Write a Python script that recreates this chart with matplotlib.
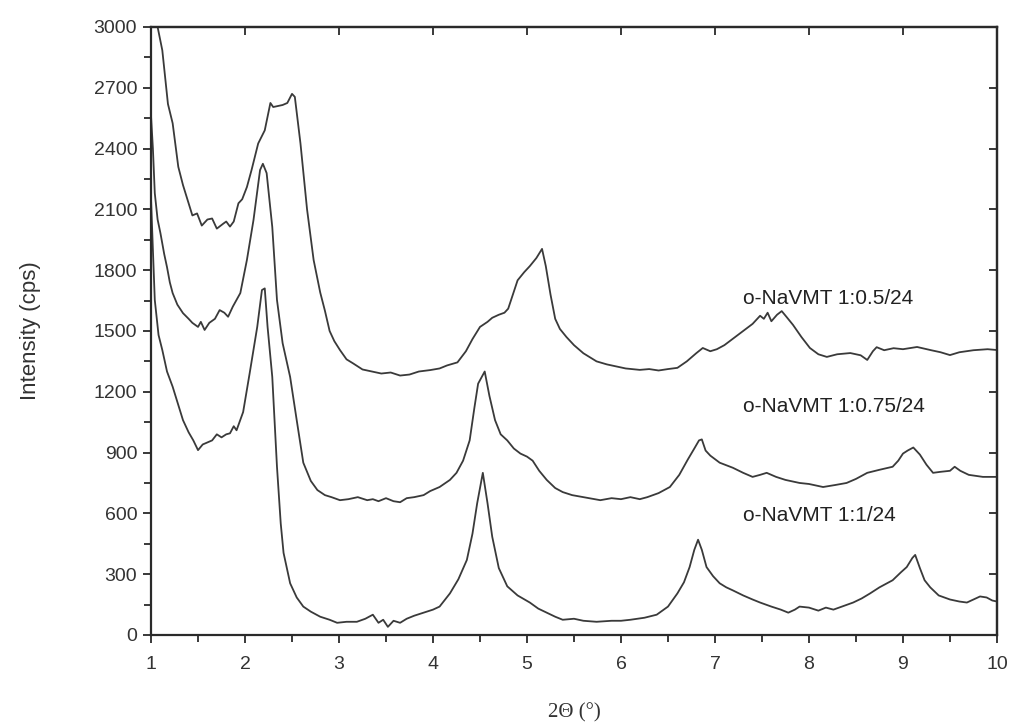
import matplotlib
matplotlib.use("Agg")
import matplotlib.pyplot as plt
from matplotlib.ticker import MultipleLocator, NullLocator

# XRD patterns of organo-modified NaVMT samples (2-theta in degrees, intensity in cps)
theta_05 = [1.00, 1.07, 1.12, 1.18, 1.23, 1.29, 1.34, 1.38, 1.44, 1.49, 1.54, 1.60, 1.65, 1.70,
            1.77, 1.80, 1.84, 1.88, 1.93, 1.97, 2.02, 2.07, 2.14, 2.21, 2.25, 2.27, 2.30, 2.35,
            2.40, 2.45, 2.50, 2.53, 2.59, 2.66, 2.73, 2.80, 2.85, 2.90, 2.95, 3.01, 3.08, 3.15,
            3.25, 3.35, 3.45, 3.55, 3.65, 3.75, 3.85, 3.97, 4.07, 4.15, 4.26, 4.35, 4.42, 4.50,
            4.58, 4.63, 4.70, 4.76, 4.80, 4.85, 4.90, 4.97, 5.03, 5.10, 5.16, 5.20, 5.25, 5.30,
            5.35, 5.42, 5.50, 5.60, 5.74, 5.85, 5.95, 6.05, 6.20, 6.30, 6.40, 6.50, 6.60, 6.70,
            6.80, 6.87, 6.95, 7.02, 7.10, 7.20, 7.30, 7.40, 7.48, 7.52, 7.56, 7.60, 7.66, 7.71,
            7.76, 7.83, 7.92, 8.01, 8.10, 8.19, 8.30, 8.44, 8.55, 8.62, 8.68, 8.72, 8.80, 8.90,
            9.00, 9.15, 9.30, 9.40, 9.50, 9.60, 9.75, 9.90, 10.00]
int_05 = [3400, 3000, 2885, 2620, 2525, 2310, 2220, 2160, 2070, 2080, 2020, 2050, 2055, 2005,
          2030, 2040, 2015, 2040, 2130, 2150, 2210, 2295, 2425, 2490, 2580, 2625, 2605, 2610,
          2615, 2625, 2670, 2655, 2425, 2100, 1850, 1690, 1600, 1500, 1450, 1406, 1360, 1340,
          1310, 1300, 1290, 1295, 1280, 1285, 1300, 1307, 1315, 1330, 1345, 1400, 1460, 1520,
          1545, 1565, 1580, 1590, 1610, 1680, 1750, 1790, 1820, 1860, 1905, 1820, 1680, 1560,
          1510, 1470, 1430, 1390, 1350, 1335, 1325, 1315, 1308, 1312, 1305, 1312, 1318, 1350,
          1390, 1416, 1400, 1410, 1430, 1465, 1500, 1535, 1575, 1560, 1590, 1548, 1580, 1598,
          1570, 1530, 1470, 1416, 1385, 1372, 1385, 1391, 1380, 1357, 1400, 1420, 1405, 1415,
          1410, 1421, 1405, 1395, 1381, 1395, 1405, 1410, 1406]

theta_075 = [1.00, 1.02, 1.04, 1.07, 1.10, 1.14, 1.17, 1.20, 1.23, 1.28, 1.34, 1.40, 1.44, 1.50,
             1.53, 1.57, 1.62, 1.68, 1.73, 1.78, 1.82, 1.87, 1.95, 2.02, 2.09, 2.16, 2.19, 2.23,
             2.29, 2.34, 2.40, 2.48, 2.55, 2.62, 2.70, 2.77, 2.85, 2.92, 3.01, 3.10, 3.20, 3.30,
             3.36, 3.42, 3.50, 3.58, 3.65, 3.72, 3.80, 3.90, 3.97, 4.07, 4.18, 4.25, 4.32, 4.39,
             4.44, 4.48, 4.55, 4.60, 4.66, 4.72, 4.79, 4.86, 4.93, 5.00, 5.06, 5.13, 5.21, 5.30,
             5.38, 5.48, 5.60, 5.78, 5.90, 6.00, 6.10, 6.20, 6.28, 6.40, 6.52, 6.62, 6.71, 6.78,
             6.83, 6.86, 6.90, 6.95, 7.05, 7.19, 7.30, 7.40, 7.48, 7.55, 7.65, 7.75, 7.90, 8.00,
             8.15, 8.28, 8.40, 8.50, 8.62, 8.75, 8.89, 8.95, 9.00, 9.05, 9.11, 9.18, 9.25, 9.32,
             9.40, 9.50, 9.55, 9.61, 9.70, 9.85, 10.00]
int_075 = [2560, 2400, 2180, 2050, 1983, 1880, 1815, 1740, 1687, 1630, 1588, 1560, 1540, 1520,
           1545, 1505, 1540, 1560, 1603, 1590, 1570, 1620, 1687, 1850, 2047, 2294, 2325, 2279,
           2013, 1653, 1440, 1273, 1060, 850, 760, 715, 690, 680, 665, 670, 680, 665,
           670, 660, 675, 660, 655, 675, 680, 690, 710, 730, 765, 800, 860, 960,
           1120, 1240, 1300, 1180, 1060, 990, 960, 920, 895, 880, 860, 810, 765, 725,
           705, 690, 680, 665, 675, 670, 680, 670, 680, 700, 730, 790, 865, 920,
           960, 965, 910, 885, 850, 825, 800, 780, 790, 800, 780, 765, 750, 745,
           730, 740, 750, 770, 800, 815, 830, 860, 895, 910, 925, 890, 840, 800,
           805, 810, 830, 810, 790, 780, 780]

theta_1 = [1.00, 1.02, 1.04, 1.08, 1.12, 1.17, 1.23, 1.28, 1.34, 1.40, 1.45, 1.50, 1.55, 1.60,
           1.65, 1.70, 1.75, 1.80, 1.84, 1.88, 1.91, 1.98, 2.05, 2.13, 2.18, 2.21, 2.24, 2.29,
           2.34, 2.38, 2.41, 2.48, 2.55, 2.62, 2.70, 2.80, 2.90, 2.98, 3.08, 3.19, 3.28, 3.36,
           3.42, 3.47, 3.52, 3.58, 3.65, 3.72, 3.80, 3.90, 4.00, 4.07, 4.18, 4.27, 4.36, 4.42,
           4.47, 4.53, 4.58, 4.63, 4.70, 4.79, 4.90, 5.03, 5.12, 5.21, 5.30, 5.38, 5.50, 5.60,
           5.74, 5.90, 6.00, 6.10, 6.25, 6.38, 6.50, 6.60, 6.67, 6.73, 6.78, 6.82, 6.86, 6.91,
           6.98, 7.05, 7.12, 7.19, 7.30, 7.40, 7.48, 7.60, 7.70, 7.78, 7.85, 7.90, 8.00, 8.10,
           8.18, 8.26, 8.35, 8.47, 8.56, 8.65, 8.75, 8.89, 8.98, 9.04, 9.10, 9.13, 9.18, 9.23,
           9.29, 9.38, 9.50, 9.60, 9.68, 9.75, 9.82, 9.89, 9.95, 10.00]
int_1 = [2150, 1900, 1653, 1480, 1406, 1300, 1225, 1150, 1060, 1000, 960, 912, 940, 950,
         960, 990, 975, 990, 995, 1030, 1010, 1100, 1293, 1520, 1702, 1710, 1520, 1273,
         830, 550, 405, 255, 185, 140, 115, 90, 75, 60, 65, 65, 80, 100,
         60, 75, 40, 70, 60, 80, 95, 110, 125, 140, 205, 275, 370, 500,
         650, 800, 650, 485, 330, 240, 195, 160, 130, 110, 90, 75, 80, 70,
         65, 70, 70, 75, 85, 100, 140, 205, 260, 335, 420, 470, 420, 335,
         290, 255, 235, 220, 195, 175, 160, 140, 125, 110, 125, 140, 135, 120,
         135, 125, 140, 160, 180, 205, 235, 270, 310, 335, 380, 395, 330, 270,
         235, 195, 175, 165, 160, 175, 190, 185, 170, 165]

labels = ["o-NaVMT 1:0.5/24", "o-NaVMT 1:0.75/24", "o-NaVMT 1:1/24"]
label_y = [1660, 1125, 590]

ink = "#2a2a2a"
fig = plt.figure(figsize=(10.17, 7.27), dpi=100)
ax = fig.add_axes([0.1485, 0.1266, 0.8318, 0.8363])

for xs, ys in [(theta_05, int_05), (theta_075, int_075), (theta_1, int_1)]:
    ax.plot(xs, ys, color="#3a3a3a", lw=1.3, solid_joinstyle="round")

for text, yv in zip(labels, label_y):
    ax.text(7.3, yv, text, fontsize=15, family="Liberation Sans", color="#222222",
            va="center", ha="left")

ax.set_xlim(1, 10)
ax.set_ylim(0, 3000)
ax.xaxis.set_major_locator(MultipleLocator(1))
ax.xaxis.set_minor_locator(MultipleLocator(0.5))
ax.yaxis.set_major_locator(MultipleLocator(300))
ax.yaxis.set_minor_locator(MultipleLocator(150))

for spine in ax.spines.values():
    spine.set_linewidth(1.6)
    spine.set_color(ink)

# bottom/left: outward major and minor ticks with labels
ax.tick_params(axis="both", which="both", direction="out", colors=ink,
               labelcolor="#333333", labelsize=14, width=1.3)
ax.tick_params(which="major", length=6)
ax.tick_params(which="minor", length=5)
ax.tick_params(axis="x", pad=9)
ax.tick_params(axis="y", pad=4)
for lab in ax.get_xticklabels() + ax.get_yticklabels():
    lab.set_family("Liberation Sans")

# top/right: inward major ticks only, no labels
top = ax.secondary_xaxis("top")
top.xaxis.set_major_locator(MultipleLocator(1))
top.xaxis.set_minor_locator(NullLocator())
top.tick_params(direction="in", length=6, width=1.3, colors=ink, labeltop=False)
right = ax.secondary_yaxis("right")
right.yaxis.set_major_locator(MultipleLocator(300))
right.yaxis.set_minor_locator(NullLocator())
right.tick_params(direction="in", length=6, width=1.3, colors=ink, labelright=False)
for sec in (top, right):
    for spine in sec.spines.values():
        spine.set_linewidth(1.6)
        spine.set_color(ink)

ax.set_ylabel("Intensity (cps)", fontsize=16, family="Liberation Sans",
              color="#333333", labelpad=38)
ax.set_xlabel("2Θ (°)", fontsize=15, family="Liberation Serif",
              color="#333333", labelpad=22)

fig.savefig("out.png", dpi=100)
